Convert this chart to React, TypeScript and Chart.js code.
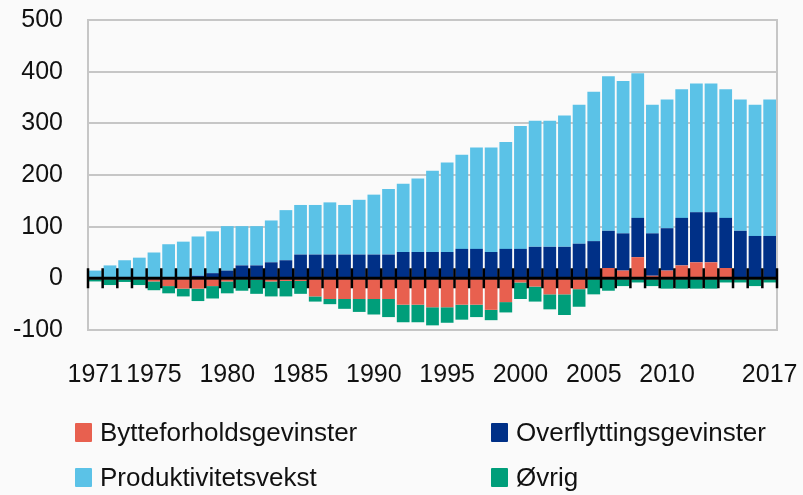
import React, { useEffect, useRef } from 'react';
import { Chart, registerables } from 'chart.js';

Chart.register(...registerables);

const years = [
  '1971', '1972', '1973', '1974', '1975', '1976', '1977', '1978', '1979', '1980',
  '1981', '1982', '1983', '1984', '1985', '1986', '1987', '1988', '1989', '1990',
  '1991', '1992', '1993', '1994', '1995', '1996', '1997', '1998', '1999', '2000',
  '2001', '2002', '2003', '2004', '2005', '2006', '2007', '2008', '2009', '2010',
  '2011', '2012', '2013', '2014', '2015', '2016', '2017',
];

const shownYearLabels = ['1971', '1975', '1980', '1985', '1990', '1995', '2000', '2005', '2010', '2017'];

const bytteforholdsgevinster = [
  0, 0, 0, 0, -6, -15, -20, -20, -15, -6,
  0, -3, -6, -5, -5, -35, -40, -40, -40, -40,
  -40, -51, -51, -56, -56, -51, -51, -61, -46, -8,
  -16, -31, -31, -21, 0, 20, 15, 41, 5, 15,
  25, 31, 31, 20, 0, 0, 0,
];

const overflyttingsgevinster = [
  0, 0, 0, 0, 0, 0, 0, 5, 10, 15,
  25, 25, 31, 35, 46, 46, 46, 46, 46, 46,
  46, 51, 51, 51, 51, 57, 57, 51, 57, 57,
  61, 61, 61, 67, 72, 72, 72, 76, 82, 82,
  92, 97, 97, 97, 92, 82, 82,
];

const produktivitetsvekst = [
  15, 25, 35, 40, 50, 66, 71, 76, 81, 86,
  76, 76, 81, 97, 96, 96, 101, 96, 106, 116,
  127, 132, 142, 157, 173, 182, 196, 202, 207, 238,
  244, 244, 254, 269, 289, 299, 295, 280, 249, 249,
  249, 249, 249, 249, 254, 254, 264,
];

const ovrig = [
  -6, -13, -7, -13, -17, -14, -15, -24, -24, -23,
  -24, -27, -29, -30, -25, -10, -10, -19, -25, -30,
  -35, -34, -34, -35, -30, -29, -24, -20, -20, -32,
  -29, -29, -40, -34, -31, -24, -15, -8, -15, -20,
  -20, -20, -20, -8, -8, -15, -8,
];

const seriesNames = ['Bytteforholdsgevinster', 'Overflyttingsgevinster', 'Produktivitetsvekst', 'Øvrig'];
const seriesColors = ['#E8604F', '#003087', '#5BC2E7', '#009E7A'];

const FONT_FAMILY = "'Liberation Sans', Arial, sans-serif";
const GRID_COLOR = '#c6c6c6';

const frameAndZeroPlugin = {
  id: 'frameAndZero',
  afterDatasetsDraw(chart: any) {
    const { ctx, chartArea, scales } = chart;
    const y0 = scales.y.getPixelForValue(0);
    const n = chart.data.labels.length;
    const xs = scales.x;
    ctx.save();
    ctx.strokeStyle = GRID_COLOR;
    ctx.lineWidth = 2;
    ctx.beginPath();
    ctx.moveTo(chartArea.right, chartArea.top - 1);
    ctx.lineTo(chartArea.right, chartArea.bottom + 1);
    ctx.stroke();

    ctx.strokeStyle = '#000';
    ctx.lineWidth = 3;
    ctx.beginPath();
    ctx.moveTo(chartArea.left, y0);
    ctx.lineTo(chartArea.right, y0);
    ctx.stroke();

    ctx.lineWidth = 2.5;
    ctx.beginPath();
    const w = xs.width / n;
    for (let i = 0; i <= n; i++) {
      const px = xs.left + i * w;
      ctx.moveTo(px, y0 - 10);
      ctx.lineTo(px, y0 + 10);
    }
    ctx.stroke();
    ctx.restore();
  },
};

export default function App() {
  const canvasRef = useRef<HTMLCanvasElement | null>(null);

  useEffect(() => {
    document.body.style.margin = '0';
    document.body.style.background = '#fafafa';
    const canvas = canvasRef.current;
    if (!canvas) return;
    const dataArrays = [bytteforholdsgevinster, overflyttingsgevinster, produktivitetsvekst, ovrig];
    const chart = new Chart(canvas, {
      type: 'bar',
      data: {
        labels: years,
        datasets: dataArrays.map((d, i) => ({
          label: seriesNames[i],
          data: d,
          backgroundColor: seriesColors[i],
          borderWidth: 0,
          barPercentage: 0.87,
          categoryPercentage: 1.0,
          stack: 'all',
        })),
      },
      options: {
        animation: false,
        responsive: true,
        maintainAspectRatio: false,
        layout: { padding: { top: 20, right: 26, left: 0, bottom: 0 } },
        plugins: {
          legend: { display: false },
          tooltip: { enabled: false },
        },
        scales: {
          x: {
            stacked: true,
            offset: true,
            grid: { display: false, drawTicks: false },
            border: { display: true, color: GRID_COLOR, width: 2 },
            ticks: {
              autoSkip: false,
              maxRotation: 0,
              minRotation: 0,
              padding: 30,
              color: '#111',
              font: { family: FONT_FAMILY, size: 25 },
              callback: (_v: any, idx: number) =>
                shownYearLabels.includes(years[idx]) ? years[idx] : '',
            },
            afterFit: (s: any) => {
              s.height = 165;
              s.paddingLeft = 0;
              s.paddingRight = 0;
            },
          },
          y: {
            stacked: true,
            min: -100,
            max: 500,
            grid: { color: GRID_COLOR, lineWidth: 2, drawTicks: false },
            border: { display: true, color: GRID_COLOR, width: 2 },
            ticks: {
              stepSize: 100,
              padding: 25,
              color: '#111',
              font: { family: FONT_FAMILY, size: 25, lineHeight: 0.8 },
            },
            afterFit: (s: any) => {
              s.width = 88;
              s.paddingTop = 0;
              s.paddingBottom = 0;
            },
          },
        },
      },
      plugins: [frameAndZeroPlugin],
    });
    return () => chart.destroy();
  }, []);

  const legendItems = [
    { name: seriesNames[0], color: seriesColors[0], left: 75, top: 423 },
    { name: seriesNames[1], color: seriesColors[1], left: 491, top: 423 },
    { name: seriesNames[2], color: seriesColors[2], left: 75, top: 468 },
    { name: seriesNames[3], color: seriesColors[3], left: 491, top: 468 },
  ];

  return (
    <div style={{ position: 'relative', width: 803, height: 495, overflow: 'hidden' }}>
      <canvas ref={canvasRef} />
      {legendItems.map((it) => (
        <div
          key={it.name}
          style={{ position: 'absolute', left: it.left, top: it.top, height: 19, display: 'flex', alignItems: 'center' }}
        >
          <span style={{ display: 'inline-block', width: 17, height: 19, background: it.color, borderRadius: 1 }} />
          <span
            style={{
              marginLeft: 8,
              fontFamily: FONT_FAMILY,
              fontSize: 26,
              lineHeight: '19px',
              color: '#111',
              whiteSpace: 'nowrap',
            }}
          >
            {it.name}
          </span>
        </div>
      ))}
    </div>
  );
}
